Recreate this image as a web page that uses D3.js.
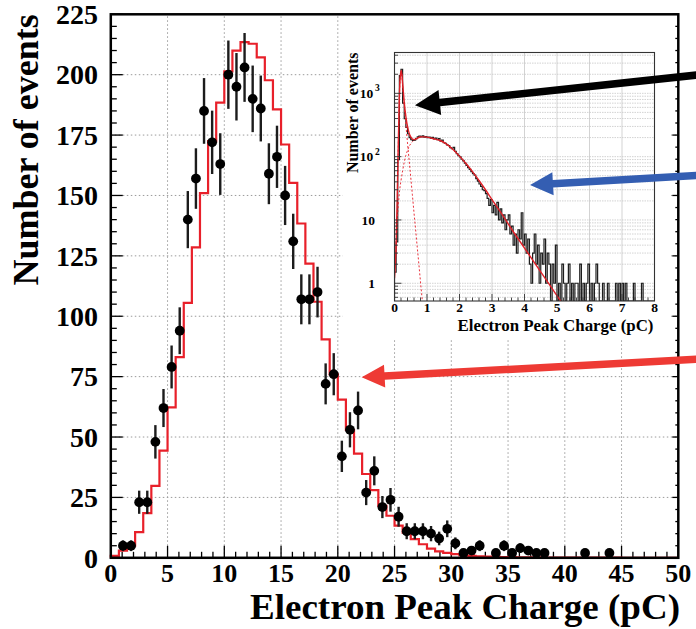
<!DOCTYPE html>
<html>
<head>
<meta charset="utf-8">
<script src="https://cdn.jsdelivr.net/npm/d3@7"></script>
<style>
html,body{margin:0;padding:0;background:#fff;}
svg{display:block;}
</style>
</head>
<body>
<svg id="chart" width="696" height="629"></svg>
<script>
// ---------------- main histogram (0–50 pC, 70 bins) ----------------
const binWidth = 5 / 7;
const dataCounts = [
  0, 5, 5, 23, 23, 48, 62, 79, 94, 140,
  157, 185, 172, 163, 200, 195, 203, 190, 186, 159,
  166, 150, 131, 107, 107, 110, 72, 76, 42, 53,
  61, 27, 36, 21, 24, 17, 11, 11, 11, 10,
  8, 12, 6, 2, 3, 5, 0, 2, 5, 2,
  4, 3, 2, 2, 0, 0, 0, 0, 2, 0,
  0, 2, 0, 0, 0, 0, 0, 0, 0, 0
];
const modelCounts = [
  0.8, 3, 5, 10.6, 18.5, 29.8, 44.4, 62.3, 83.1, 105.5,
  128.5, 151, 172.5, 188.4, 201.4, 210, 213.5, 212.8, 207.2, 197.7,
  185.6, 171.1, 155.2, 138.4, 121.8, 106, 90.4, 75.9, 65.5, 52.9,
  43.1, 34.7, 28, 21.5, 17.4, 13.3, 10.4, 7.7, 5.6, 3.8,
  2.7, 2.0, 1.5, 1.0, 0.8, 0.6, 0.5, 0.4, 0.3, 0.25,
  0.2, 0.17, 0.14, 0.12, 0.1, 0.09, 0.08, 0.07, 0.06, 0.05,
  0.05, 0.04, 0.04, 0.03, 0.03, 0.03, 0.02, 0.02, 0.02, 0.02
];
const xTickValues = [0, 5, 10, 15, 20, 25, 30, 35, 40, 45, 50];
const yTickValues = [0, 25, 50, 75, 100, 125, 150, 175, 200, 225];
const xTitle = "Electron Peak Charge (pC)";
const yTitle = "Number of events";

// ---------------- inset (0–8 pC, log y) ----------------
const insetBinWidth = 0.05;
const insetCounts = [
  1.5, 4.5, 90, 1900, 2400, 700, 400, 290, 230, 200,
  185, 180, 183, 192, 205, 212, 206, 213, 203, 208,
  199, 204, 196, 201, 190, 197, 186, 193, 176, 182,
  166, 162, 154, 150, 139, 134, 140, 121, 112, 104,
  99, 91, 86, 79, 73, 67, 63, 58, 54, 51,
  45, 41, 37, 34, 30, 29, 26, 22, 17, 21,
  13, 17, 12, 19, 10, 15, 9, 12, 7, 10,
  12, 6, 8, 4, 6, 3, 7, 5, 13, 4,
  6, 3, 5, 2, 1, 3, 6, 2, 4, 1,
  3, 2, 5, 1, 3, 2, 0, 2, 1, 4,
  0, 1, 0, 2, 1, 0, 1, 2, 0, 1,
  0, 1, 1, 0, 2, 0, 1, 0, 1, 2,
  0, 1, 0, 1, 2, 1, 0, 0, 1, 0,
  0, 1, 0, 0, 0, 0, 1, 0, 1, 0,
  1, 0, 1, 0, 0, 0, 0, 1, 0, 0,
  0, 0, 1, 0, 0, 0, 0, 0, 0, 0
];
const fitX = [0, 0.05, 0.1, 0.15, 0.18, 0.21, 0.25, 0.3, 0.35, 0.4, 0.45, 0.5, 0.55, 0.6, 0.7, 0.8, 0.9, 1.0, 1.2, 1.4, 1.6, 1.8, 2.0, 2.2, 2.4, 2.6, 2.8, 3.0, 3.3, 3.6, 4.0, 4.4, 4.8, 5.2];
const fitY = [1.2, 4, 60, 900, 1900, 2300, 1450, 720, 430, 300, 235, 205, 190, 186, 195, 205, 205, 203, 192, 180, 158, 130, 102, 78, 58, 42, 30, 21, 12.5, 7.2, 3.6, 1.8, 0.9, 0.45];
const peakCompX = [0.1, 0.15, 0.18, 0.21, 0.25, 0.3, 0.35, 0.4, 0.45, 0.5, 0.55, 0.6, 0.65, 0.7, 0.75, 0.8, 0.86, 0.9];
const peakCompY = [50, 850, 1850, 2250, 1330, 620, 320, 165, 88, 47, 25, 13, 7, 3.7, 2, 1.05, 0.5, 0.3];
const broadCompX = [0.02, 0.05, 0.08, 0.12, 0.16, 0.2, 0.25, 0.3, 0.35, 0.4, 0.45, 0.5, 0.55, 0.6, 0.65, 0.7, 0.8];
const broadCompY = [2, 4, 9, 18, 30, 42, 60, 82, 105, 125, 145, 160, 172, 182, 188, 193, 203];
const insetXTicks = [0, 1, 2, 3, 4, 5, 6, 7, 8];
const insetYTicks = [1, 10, 100, 1000];
const insetYLabels = [["1", ""], ["10", ""], ["10", "2"], ["10", "3"]];
const insetXTitle = "Electron Peak Charge (pC)";
const insetYTitle = "Number of events";

// annotation arrows: tail and tip in the data space they point into
const arrows = [
  {space: "inset", tail: [9.3, 1946], tip: [0.63, 650], color: "#000000", head: 25},
  {space: "inset", tail: [9.3, 50.4], tip: [4.17, 35.6], color: "#345eb2", head: 23},
  {space: "main",  tail: [51.6, 82.2], tip: [22.1, 74.7], color: "#ee3a34", head: 23}
];

// ================= drawing =================
const serif = "'Liberation Serif','Times New Roman',Times,serif";
const svg = d3.select("#chart");
svg.append("rect").attr("width", 696).attr("height", 629).attr("fill", "#fff");

const x = d3.scaleLinear().domain([0, 50]).range([110.8, 678.3]);
const y = d3.scaleLinear().domain([0, 225]).range([557.8, 14.3]);

// grid
const grid = svg.append("g").attr("stroke", "#9a9a9a").attr("stroke-width", 1).attr("stroke-dasharray", "1.5,2.5");
xTickValues.slice(1, -1).forEach(v => grid.append("line").attr("x1", x(v)).attr("x2", x(v)).attr("y1", y(0)).attr("y2", y(225)));
yTickValues.slice(1, -1).forEach(v => grid.append("line").attr("y1", y(v)).attr("y2", y(v)).attr("x1", x(0)).attr("x2", x(50)));

// inset pad (white) hides the main grid
svg.append("rect").attr("x", 343).attr("y", 15).attr("width", 328).attr("height", 324).attr("fill", "#fff");

// ticks
const tk = svg.append("g").attr("stroke", "#000").attr("stroke-width", 1.3);
d3.range(0, 51, 1).forEach(v => {
  const L = v % 5 === 0 ? 12 : 6;
  tk.append("line").attr("x1", x(v)).attr("x2", x(v)).attr("y1", y(0)).attr("y2", y(0) - L);
});
d3.range(0, 226, 5).forEach(v => {
  const major = v % 25 === 0;
  tk.append("line").attr("x1", x(0)).attr("x2", x(0) + (major ? 12 : 6)).attr("y1", y(v)).attr("y2", y(v));
  tk.append("line").attr("x1", x(50)).attr("x2", x(50) - (major ? 6 : 3)).attr("y1", y(v)).attr("y2", y(v));
});

// model histogram (red step line)
const edges = modelCounts.map((c, i) => [i * binWidth, c]);
edges.unshift([0, 0]);
edges.push([50, modelCounts[modelCounts.length - 1]]);
const stepLine = d3.line().x(d => x(d[0])).y(d => y(d[1])).curve(d3.curveStepAfter);
svg.append("path").attr("d", stepLine(edges)).attr("fill", "none").attr("stroke", "#e8202a").attr("stroke-width", 2.2);

// data points with sqrt(N) errors
const pts = dataCounts.map((c, i) => ({c, xc: (i + 0.5) * binWidth})).filter(d => d.c > 0);
svg.append("g").selectAll("line").data(pts).join("line")
  .attr("x1", d => x(d.xc)).attr("x2", d => x(d.xc))
  .attr("y1", d => y(d.c - Math.sqrt(d.c))).attr("y2", d => y(d.c + Math.sqrt(d.c)))
  .attr("stroke", "#1c1c1c").attr("stroke-width", 2.4);
svg.append("g").selectAll("circle").data(pts).join("circle")
  .attr("cx", d => x(d.xc)).attr("cy", d => y(d.c)).attr("r", 4.9).attr("fill", "#000");

// frame
svg.append("rect").attr("x", x(0)).attr("y", y(225)).attr("width", x(50) - x(0)).attr("height", y(0) - y(225))
  .attr("fill", "none").attr("stroke", "#000").attr("stroke-width", 2.5);

// tick labels
const lab = svg.append("g").attr("font-family", serif).attr("font-weight", "bold").attr("fill", "#000");
xTickValues.forEach(v => lab.append("text").attr("x", x(v)).attr("y", 582).attr("font-size", 26).attr("text-anchor", "middle").text(v));
yTickValues.forEach(v => lab.append("text").attr("x", 98).attr("y", y(v)).attr("dy", "0.35em").attr("font-size", 28).attr("text-anchor", "end").text(v));

// axis titles
svg.append("text").attr("x", 680).attr("y", 619).attr("text-anchor", "end")
  .attr("textLength", 430).attr("lengthAdjust", "spacingAndGlyphs")
  .attr("font-family", serif).attr("font-weight", "bold").attr("font-size", 35).text(xTitle);
svg.append("text").attr("transform", `translate(38,${y(225)}) rotate(-90)`).attr("text-anchor", "end")
  .attr("font-family", serif).attr("font-weight", "bold").attr("font-size", 36).text(yTitle);

// ================= inset =================
const ix = d3.scaleLinear().domain([0, 8]).range([394.5, 654.5]);
const yMinI = Math.pow(10, -0.28), yMaxI = Math.pow(10, 3.645);
const iy = d3.scaleLog().domain([yMinI, yMaxI]).range([301, 52.5]);
const ins = svg.append("g");
ins.append("rect").attr("x", ix(0)).attr("y", iy(yMaxI)).attr("width", ix(8) - ix(0)).attr("height", iy(yMinI) - iy(yMaxI)).attr("fill", "#fff");

// inset grid
const ig = ins.append("g").attr("stroke", "#c8c8c8").attr("stroke-width", 0.8);
d3.range(1, 8).forEach(v => ig.append("line").attr("x1", ix(v)).attr("x2", ix(v)).attr("y1", iy(yMinI)).attr("y2", iy(yMaxI)));
const logTicks = [];
[0.1, 1, 10, 100, 1000].forEach(d => d3.range(1, 10).forEach(m => { const v = d * m; if (v > yMinI && v < yMaxI) logTicks.push(v); }));
logTicks.forEach(v => ig.append("line").attr("x1", ix(0)).attr("x2", ix(8)).attr("y1", iy(v)).attr("y2", iy(v)).attr("stroke-dasharray", "1.5,1"));

// clip
svg.append("defs").append("clipPath").attr("id", "insClip").append("rect")
  .attr("x", ix(0)).attr("y", iy(yMaxI)).attr("width", ix(8) - ix(0)).attr("height", iy(yMinI) - iy(yMaxI));
const ic = ins.append("g").attr("clip-path", "url(#insClip)");

// inset data histogram
const iEdges = insetCounts.map((c, i) => [i * insetBinWidth, Math.max(c, yMinI)]);
iEdges.unshift([0, yMinI]);
iEdges.push([8, Math.max(insetCounts[insetCounts.length - 1], yMinI)]);
ic.append("path").attr("d", d3.line().x(d => ix(d[0])).y(d => iy(d[1])).curve(d3.curveStepAfter)(iEdges))
  .attr("fill", "none").attr("stroke", "#1e1e1e").attr("stroke-width", 1.2);

// fit components
const smooth = d3.line().x(d => ix(d[0])).y(d => iy(d[1])).curve(d3.curveMonotoneX);
ic.append("path").attr("d", smooth(peakCompX.map((v, i) => [v, peakCompY[i]])))
  .attr("fill", "none").attr("stroke", "#e8303a").attr("stroke-width", 1).attr("stroke-dasharray", "2,2");
ic.append("path").attr("d", smooth(broadCompX.map((v, i) => [v, broadCompY[i]])))
  .attr("fill", "none").attr("stroke", "#e8303a").attr("stroke-width", 1).attr("stroke-dasharray", "2,2");
ic.append("path").attr("d", smooth(fitX.map((v, i) => [v, fitY[i]])))
  .attr("fill", "none").attr("stroke", "#e02028").attr("stroke-width", 1.4);

// inset frame and ticks
ins.append("rect").attr("x", ix(0)).attr("y", iy(yMaxI)).attr("width", ix(8) - ix(0)).attr("height", iy(yMinI) - iy(yMaxI))
  .attr("fill", "none").attr("stroke", "#333").attr("stroke-width", 1.1);
const it = ins.append("g").attr("stroke", "#333").attr("stroke-width", 0.9);
d3.range(0, 40.5, 1).forEach(k => {
  const v = k * 0.2; const L = k % 5 === 0 ? 7 : 3.5;
  it.append("line").attr("x1", ix(v)).attr("x2", ix(v)).attr("y1", iy(yMinI)).attr("y2", iy(yMinI) - L);
});
logTicks.forEach(v => {
  const major = insetYTicks.includes(v);
  it.append("line").attr("x1", ix(0)).attr("x2", ix(0) + (major ? 7 : 3.5)).attr("y1", iy(v)).attr("y2", iy(v));
});

// inset labels
const il = ins.append("g").attr("font-family", serif).attr("font-weight", "bold").attr("fill", "#000");
insetXTicks.forEach(v => il.append("text").attr("x", ix(v)).attr("y", 312).attr("text-anchor", "middle").attr("font-size", 13.5).text(v));
insetYTicks.forEach((v, i) => {
  const [base, exp] = insetYLabels[i];
  const bx = exp ? 373.3 : 375;
  il.append("text").attr("x", bx).attr("y", iy(v)).attr("dy", "0.35em").attr("text-anchor", "end").attr("font-size", 13.5).text(base);
  if (exp) il.append("text").attr("x", bx + 1.8).attr("y", iy(v) - 2).attr("font-size", 9.5).text(exp);
});
il.append("text").attr("x", 653.5).attr("y", 331).attr("text-anchor", "end")
  .attr("textLength", 196).attr("lengthAdjust", "spacingAndGlyphs").attr("font-size", 16).text(insetXTitle);
il.append("text").attr("transform", `translate(358,${iy(yMaxI)}) rotate(-90)`).attr("text-anchor", "end").attr("font-size", 16).text(insetYTitle);

// ================= arrows =================
function arrowPath(x1, y1, x2, y2, shaftW, headL, headW) {
  const dx = x2 - x1, dy = y2 - y1, L = Math.hypot(dx, dy);
  const ux = dx / L, uy = dy / L, nx = -uy, ny = ux;
  const bx = x2 - ux * headL, by = y2 - uy * headL;
  const p = [
    [x1 + nx * shaftW / 2, y1 + ny * shaftW / 2],
    [bx + nx * shaftW / 2, by + ny * shaftW / 2],
    [bx + nx * headW / 2, by + ny * headW / 2],
    [x2, y2],
    [bx - nx * headW / 2, by - ny * headW / 2],
    [bx - nx * shaftW / 2, by - ny * shaftW / 2],
    [x1 - nx * shaftW / 2, y1 - ny * shaftW / 2]
  ];
  return "M" + p.map(q => q[0].toFixed(2) + "," + q[1].toFixed(2)).join("L") + "Z";
}
arrows.forEach(a => {
  const sx = a.space === "inset" ? ix : x, sy = a.space === "inset" ? iy : y;
  svg.append("path").attr("d", arrowPath(sx(a.tail[0]), sy(a.tail[1]), sx(a.tip[0]), sy(a.tip[1]), 7.5, a.head, a.head))
    .attr("fill", a.color);
});
</script>
</body>
</html>
